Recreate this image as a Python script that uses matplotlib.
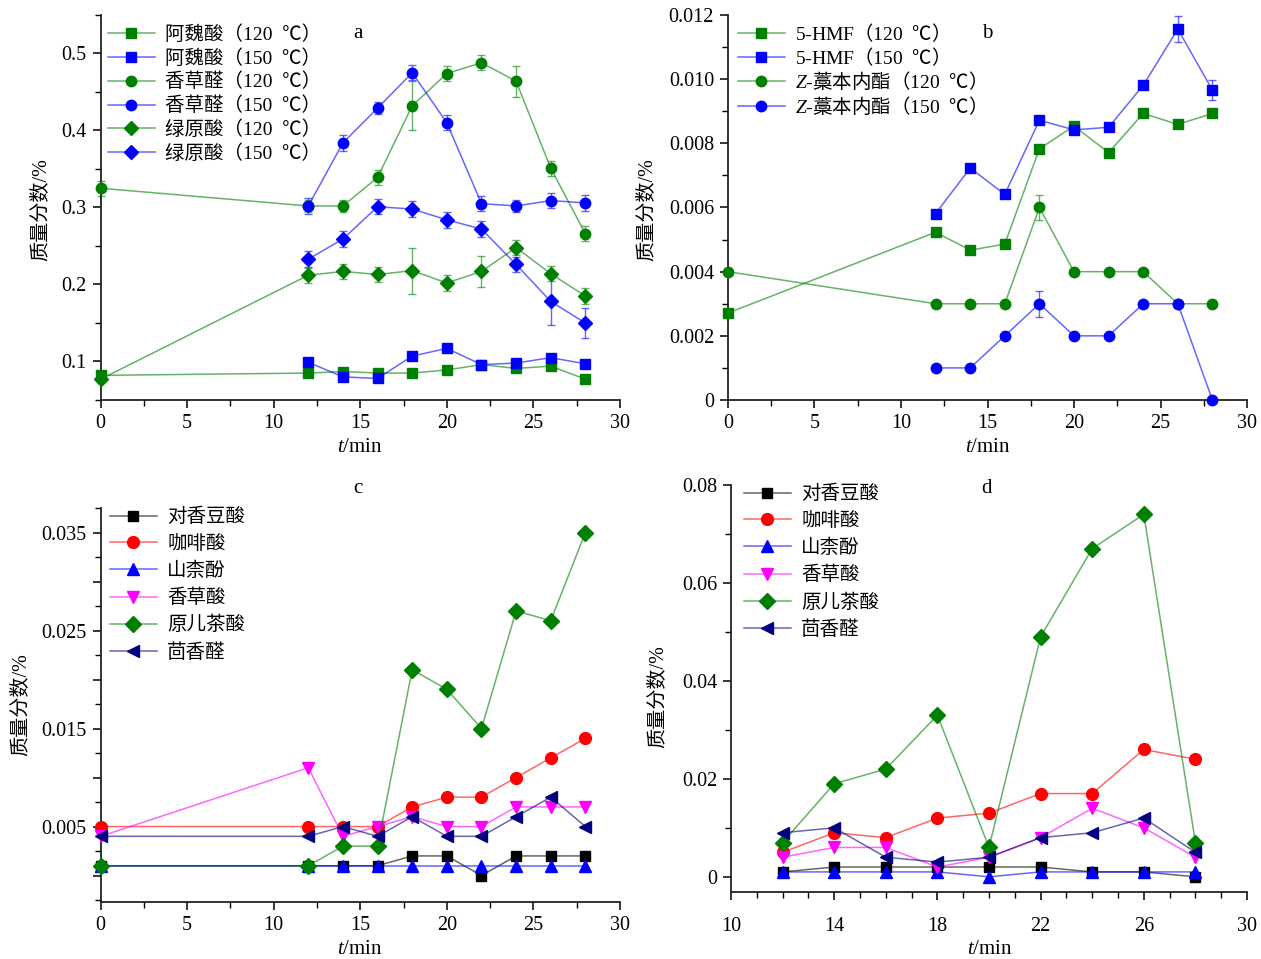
import numpy as np
import matplotlib
matplotlib.use("Agg")
import matplotlib.pyplot as plt
from matplotlib.ticker import MultipleLocator, FixedLocator, FuncFormatter

plt.rcParams['font.family'] = ['Liberation Serif', 'Noto Sans CJK SC', 'DejaVu Sans']
plt.rcParams['mathtext.fontset'] = 'custom'
plt.rcParams['mathtext.rm'] = 'Noto Sans CJK SC'
plt.rcParams['mathtext.it'] = 'Liberation Serif:italic'
plt.rcParams['mathtext.bf'] = 'Liberation Serif:bold'
plt.rcParams['axes.unicode_minus'] = False

# ---------- data ----------
t_all = [0, 12, 14, 16, 18, 20, 22, 24, 26, 28]
t_late = [12, 14, 16, 18, 20, 22, 24, 26, 28]

# panel a
awei_120 = [0.082, 0.085, 0.087, 0.085, 0.085, 0.089, 0.096, 0.091, 0.094, 0.077]
awei_150 = [0.099, 0.080, 0.078, 0.107, 0.117, 0.096, 0.098, 0.105, 0.097]
xcq_120 = [0.325, 0.302, 0.302, 0.339, 0.432, 0.474, 0.488, 0.464, 0.351, 0.266]
xcq_120_err = [0.01, 0.008, 0.008, 0.01, 0.032, 0.01, 0.01, 0.02, 0.01, 0.01]
xcq_150 = [0.302, 0.384, 0.429, 0.475, 0.410, 0.305, 0.302, 0.309, 0.306]
xcq_150_err = [0.01, 0.01, 0.008, 0.01, 0.01, 0.01, 0.008, 0.01, 0.01]
lys_120 = [0.077, 0.212, 0.217, 0.213, 0.218, 0.202, 0.217, 0.248, 0.214, 0.185]
lys_120_err = [0.005, 0.01, 0.01, 0.01, 0.03, 0.01, 0.02, 0.01, 0.01, 0.01]
lys_150 = [0.233, 0.259, 0.301, 0.298, 0.284, 0.272, 0.226, 0.178, 0.150]
lys_150_err = [0.01, 0.01, 0.01, 0.01, 0.01, 0.01, 0.01, 0.031, 0.02]

# panel b
hmf_120 = [0.00271, 0.00523, 0.00467, 0.00486, 0.00783, 0.00854, 0.00771, 0.00893, 0.00859, 0.00893]
hmf_150 = [0.00581, 0.00723, 0.00641, 0.00872, 0.00842, 0.0085, 0.00981, 0.01156, 0.00966]
hmf_150_err = [0, 0, 0, 0, 0, 0, 0, 0.0004, 0.0003]
zlig_120 = [0.004, 0.003, 0.003, 0.003, 0.006, 0.004, 0.004, 0.004, 0.003, 0.003]
zlig_120_err = [0, 0, 0, 0, 0.0004, 0, 0, 0, 0, 0]
zlig_150 = [0.001, 0.001, 0.002, 0.003, 0.002, 0.002, 0.003, 0.003, 0.0]
zlig_150_err = [0, 0, 0, 0.0004, 0, 0, 0, 0, 0]

# panel c (120 ℃)
names_cd = ['对香豆酸', '咖啡酸', '山柰酚', '香草酸', '原儿茶酸', '茴香醛']
c_pca = [0.001, 0.001, 0.001, 0.001, 0.002, 0.002, 0.0, 0.002, 0.002, 0.002]
c_caf = [0.005, 0.005, 0.005, 0.005, 0.007, 0.008, 0.008, 0.010, 0.012, 0.014]
c_kae = [0.001, 0.001, 0.001, 0.001, 0.001, 0.001, 0.001, 0.001, 0.001, 0.001]
c_van = [0.004, 0.011, 0.004, 0.005, 0.006, 0.005, 0.005, 0.007, 0.007, 0.007]
c_pro = [0.001, 0.001, 0.003, 0.003, 0.021, 0.019, 0.015, 0.027, 0.026, 0.035]
c_ani = [0.004, 0.004, 0.005, 0.004, 0.006, 0.004, 0.004, 0.006, 0.008, 0.005]

# panel d (150 ℃)
d_pca = [0.001, 0.002, 0.002, 0.002, 0.002, 0.002, 0.001, 0.001, 0.0]
d_caf = [0.005, 0.009, 0.008, 0.012, 0.013, 0.017, 0.017, 0.026, 0.024]
d_kae = [0.001, 0.001, 0.001, 0.001, 0.0, 0.001, 0.001, 0.001, 0.001]
d_van = [0.004, 0.006, 0.006, 0.002, 0.004, 0.008, 0.014, 0.010, 0.004]
d_pro = [0.007, 0.019, 0.022, 0.033, 0.006, 0.049, 0.067, 0.074, 0.007]
d_ani = [0.009, 0.010, 0.004, 0.003, 0.004, 0.008, 0.009, 0.012, 0.005]
d_xticks = [10, 14, 18, 22, 26, 30]

GREEN = '#008000'
BLUE = '#0000ff'
cd_colors = ['#000000', '#ff0000', '#0000ff', '#ff00ff', '#008000', '#000080']
cd_markers = ['s', 'o', '^', 'v', 'D', '<']
cd_ms = [7, 8.5, 8.5, 8.5, 8, 8.5]

W, H = 1261, 959
fig = plt.figure(figsize=(W / 100, H / 100), dpi=100)


def px_axes(left, top, right, bottom):
    return fig.add_axes([left / W, 1 - bottom / H, (right - left) / W, (bottom - top) / H])


def style(ax, xlim, ylim, xmaj, xmin, ymaj, ymin, yfmt=None):
    ax.set_xlim(*xlim)
    ax.set_ylim(*ylim)
    for s in ['top', 'right']:
        ax.spines[s].set_visible(False)
    for s in ['left', 'bottom']:
        ax.spines[s].set_linewidth(1.3)
        ax.spines[s].set_color('#222222')
    if isinstance(xmaj, list):
        ax.xaxis.set_major_locator(FixedLocator(xmaj))
    else:
        ax.xaxis.set_major_locator(MultipleLocator(xmaj))
    ax.xaxis.set_minor_locator(MultipleLocator(xmin))
    ax.yaxis.set_major_locator(MultipleLocator(ymaj))
    ax.yaxis.set_minor_locator(MultipleLocator(ymin))
    if yfmt is not None:
        ax.yaxis.set_major_formatter(FuncFormatter(yfmt))
    ax.tick_params(which='major', direction='out', length=6, width=1.1, labelsize=14.5, pad=4)
    ax.tick_params(which='minor', direction='out', length=4, width=1.0)
    ax.xaxis.set_major_formatter(FuncFormatter(lambda v, p: '%d' % round(v)))


def series(ax, x, y, color, marker, label, ms=7, err=None):
    line_c = matplotlib.colors.to_rgba(color, 0.6)
    if err is not None:
        ax.errorbar(x, y, yerr=err, fmt='none', ecolor=line_c, elinewidth=1, capsize=3,
                    capthick=1, clip_on=False, zorder=2)
    ax.plot(x, y, color=line_c, lw=1.1, marker=marker, ms=ms, mfc=color, mec=color,
            label=label, clip_on=False, zorder=3)


def legend(ax, loc_px, spacing):
    leg = ax.legend(loc='upper left', bbox_to_anchor=(loc_px[0] / W, 1 - loc_px[1] / H),
                    bbox_transform=fig.transFigure, frameon=False, fontsize=14,
                    handlelength=2.4, handletextpad=0.55, labelspacing=spacing,
                    borderpad=0, borderaxespad=0)
    return leg


def ylabel(ax, x_px, y_px, ax_box):
    left, top, right, bottom = ax_box
    ax.set_ylabel('质量分数/%', fontsize=14.5)
    ax.yaxis.set_label_coords((x_px - left) / (right - left), (bottom - y_px) / (bottom - top))


def xlabel(x_px, y_px):
    fig.text(x_px / W, 1 - y_px / H, '$t$/min', fontsize=15, ha='center', va='center')


# ---------- a ----------
box_a = (100.5, 15, 620, 400)
ax = px_axes(*box_a)
style(ax, (0, 30), (0.05, 0.55), 5, 2.5, 0.1, 0.05, lambda v, p: '%.1f' % v)
series(ax, t_all, awei_120, GREEN, 's', '阿魏酸（120  ℃）')
series(ax, t_late, awei_150, BLUE, 's', '阿魏酸（150  ℃）')
series(ax, t_all, xcq_120, GREEN, 'o', '香草醛（120  ℃）', ms=7.5, err=xcq_120_err)
series(ax, t_late, xcq_150, BLUE, 'o', '香草醛（150  ℃）', ms=7.5, err=xcq_150_err)
series(ax, t_all, lys_120, GREEN, 'D', '绿原酸（120  ℃）', ms=7, err=lys_120_err)
series(ax, t_late, lys_150, BLUE, 'D', '绿原酸（150  ℃）', ms=7, err=lys_150_err)
legend(ax, (108, 25), 0.27)
ylabel(ax, 50, 210, box_a)
xlabel(360, 447)
fig.text(358 / W, 1 - 33 / H, 'a', fontsize=15, ha='center', va='center')

# ---------- b ----------
box_b = (728, 15, 1247, 400)
ax = px_axes(*box_b)
style(ax, (0, 30), (0, 0.012), 5, 2.5, 0.002, 0.001,
      lambda v, p: '0' if abs(v) < 1e-9 else '%.3f' % v)
series(ax, t_all, hmf_120, GREEN, 's', r'5-HMF$\mathrm{（}$120  $\mathrm{℃）}$')
series(ax, t_late, hmf_150, BLUE, 's', r'5-HMF$\mathrm{（}$150  $\mathrm{℃）}$', err=hmf_150_err)
series(ax, t_all, zlig_120, GREEN, 'o', r'$Z$-$\mathrm{藁本内酯（}$120  $\mathrm{℃）}$',
       ms=7.5, err=zlig_120_err)
series(ax, t_late, zlig_150, BLUE, 'o', r'$Z$-$\mathrm{藁本内酯（}$150  $\mathrm{℃）}$',
       ms=7.5, err=zlig_150_err)
legend(ax, (738, 21), 0.07)
ylabel(ax, 656, 210, box_b)
xlabel(988, 447)
fig.text(987 / W, 1 - 33 / H, 'b', fontsize=15, ha='center', va='center')

# ---------- c ----------
box_c = (100.5, 508, 620, 902)
ax = px_axes(*box_c)
style(ax, (0, 30), (-0.0027, 0.0375), 5, 2.5, 0.005, 0.0025,
      lambda v, p: ('%.3f' % v) if round(v / 0.005) % 2 == 1 else '')
c_data = [c_pca, c_caf, c_kae, c_van, c_pro, c_ani]
for name, y, col, mk, ms in zip(names_cd, c_data, cd_colors, cd_markers, cd_ms):
    series(ax, t_all, y, col, mk, name, ms=ms)
legend(ax, (110, 508), 0.45)
ylabel(ax, 30, 705, box_c)
xlabel(360, 949)
fig.text(358 / W, 1 - 488 / H, 'c', fontsize=15, ha='center', va='center')

# ---------- d ----------
box_d = (731, 485, 1247, 892)
ax = px_axes(*box_d)
style(ax, (10, 30), (-0.0031, 0.08), d_xticks, 1, 0.02, 0.01,
      lambda v, p: '0' if abs(v) < 1e-9 else '%.2f' % v)
d_data = [d_pca, d_caf, d_kae, d_van, d_pro, d_ani]
for name, y, col, mk, ms in zip(names_cd, d_data, cd_colors, cd_markers, cd_ms):
    series(ax, t_late, y, col, mk, name, ms=ms)
legend(ax, (744, 485), 0.45)
ax.tick_params(axis='x', which='major', pad=12)
ylabel(ax, 667, 697, box_d)
xlabel(990, 949)
fig.text(987 / W, 1 - 488 / H, 'd', fontsize=15, ha='center', va='center')

fig.savefig('out.png', dpi=100)
